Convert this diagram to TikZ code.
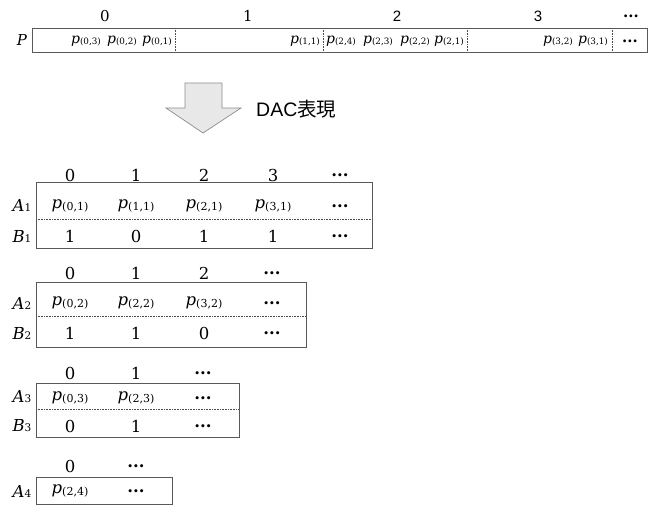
\documentclass[tikz,border=0pt]{standalone}
\usepackage{fontspec}
\setmainfont{DejaVu Serif}
\newfontfamily\sansf{Liberation Sans}
\newfontfamily\jpf{Noto Sans CJK JP}
\newcommand{\pv}[1]{\textit{p}\raisebox{-1.5pt}{\fontsize{11}{11}\selectfont(#1)}}
\newcommand{\pvs}[1]{{\fontsize{14}{14}\selectfont\textit{p}}\raisebox{-1.2pt}{\fontsize{8.8}{8.8}\selectfont(#1)}}
\newcommand{\lab}[2]{\textit{#1}{\fontsize{10.5}{10.5}\selectfont #2}}
\newcommand{\dts}{\textbf{...}}
\begin{document}
\begin{tikzpicture}[x=1pt,y=-1pt,
  txt/.style={inner sep=0pt,anchor=center,font=\fontsize{16.5}{16.5}\selectfont},
  ttxt/.style={inner sep=0pt,anchor=center,font=\fontsize{15}{15}\selectfont},
  boxline/.style={draw=black!65,line width=0.8pt},
  sep/.style={draw=black!70,line width=0.6pt,densely dotted}]
\useasboundingbox (0,0) rectangle (655,506);
% ---------- top array P ----------
\draw[boxline] (32,28) rectangle (647,52);
\draw[sep] (175,28) -- (175,52);
\draw[sep] (323,28) -- (323,52);
\draw[sep] (467,28) -- (467,52);
\draw[sep] (612,28) -- (612,52);
\node[ttxt] (P) at (22,40) {\textit{P}};
\node[ttxt] (h0) at (105,16) {0};
\node[ttxt] (h1) at (248,16) {1};
\node[ttxt] (h2) at (397,16) {\sansf 2};
\node[ttxt] (h3) at (538,16) {\sansf 3};
\node[ttxt] (h4) at (631,16) {\dts};
\node[ttxt] (t03) at (86,41) {\pvs{0,3}};
\node[ttxt] (t02) at (122,41) {\pvs{0,2}};
\node[ttxt] (t01) at (157,41) {\pvs{0,1}};
\node[ttxt] (t11) at (305,41) {\pvs{1,1}};
\node[ttxt] (t24) at (341,41) {\pvs{2,4}};
\node[ttxt] (t23) at (378,41) {\pvs{2,3}};
\node[ttxt] (t22) at (415,41) {\pvs{2,2}};
\node[ttxt] (t21) at (449,41) {\pvs{2,1}};
\node[ttxt] (t32) at (558,41) {\pvs{3,2}};
\node[ttxt] (t31) at (593,41) {\pvs{3,1}};
\node[ttxt] (t4) at (630,41) {\dts};
% ---------- arrow ----------
\draw[fill=black!9,draw=black!45,line width=0.7pt]
  (185,83) -- (222,83) -- (222,108) -- (241,108) -- (203,133) -- (166,108) -- (185,108) -- cycle;
\node[inner sep=0pt,anchor=west,font=\fontsize{19.5}{19.5}\selectfont] (dac) at (256,109) {\sansf DAC\jpf 表現};
% ---------- table 1 ----------
\draw[boxline] (36,182) rectangle (372,248);
\draw[sep] (36,219) -- (372,219);
\node[txt] (a1l) at (22,205) {\lab{A}{1}};
\node[txt] (b1l) at (22,236) {\lab{B}{1}};
\node[txt] (c10) at (70,175) {0};
\node[txt] (c11) at (136,175) {1};
\node[txt] (c12) at (204,175) {2};
\node[txt] (c13) at (273,175) {3};
\node[txt] (c14) at (340,175) {\dts};
\node[txt] (a10) at (70,206) {\pv{0,1}};
\node[txt] (a11) at (136,206) {\pv{1,1}};
\node[txt] (a12) at (204,206) {\pv{2,1}};
\node[txt] (a13) at (273,206) {\pv{3,1}};
\node[txt] (a14) at (340,206) {\dts};
\node[txt] (b10) at (70,236) {1};
\node[txt] (b11) at (136,236) {0};
\node[txt] (b12) at (204,236) {1};
\node[txt] (b13) at (273,236) {1};
\node[txt] (b14) at (340,236) {\dts};
% ---------- table 2 ----------
\draw[boxline] (36,282) rectangle (306,347);
\draw[sep] (36,316) -- (306,316);
\node[txt] (a2l) at (22,303) {\lab{A}{2}};
\node[txt] (b2l) at (22,333) {\lab{B}{2}};
\node[txt] (c20) at (70,273) {0};
\node[txt] (c21) at (136,273) {1};
\node[txt] (c22) at (204,273) {2};
\node[txt] (c23) at (272,273) {\dts};
\node[txt] (a20) at (70,303) {\pv{0,2}};
\node[txt] (a21) at (136,303) {\pv{2,2}};
\node[txt] (a22) at (204,303) {\pv{3,2}};
\node[txt] (a23) at (272,303) {\dts};
\node[txt] (b20) at (70,333) {1};
\node[txt] (b21) at (136,333) {1};
\node[txt] (b22) at (204,333) {0};
\node[txt] (b23) at (272,333) {\dts};
% ---------- table 3 ----------
\draw[boxline] (36,383) rectangle (239,437);
\draw[sep] (36,409) -- (239,409);
\node[txt] (a3l) at (22,397) {\lab{A}{3}};
\node[txt] (b3l) at (22,426) {\lab{B}{3}};
\node[txt] (c30) at (70,373) {0};
\node[txt] (c31) at (136,373) {1};
\node[txt] (c32) at (203,373) {\dts};
\node[txt] (a30) at (70,398) {\pv{0,3}};
\node[txt] (a31) at (136,398) {\pv{2,3}};
\node[txt] (a32) at (203,398) {\dts};
\node[txt] (b30) at (70,426) {0};
\node[txt] (b31) at (136,426) {1};
\node[txt] (b32) at (203,426) {\dts};
% ---------- table 4 ----------
\draw[boxline] (36,477) rectangle (172,504);
\node[txt] (a4l) at (22,491) {\lab{A}{4}};
\node[txt] (c40) at (70,466) {0};
\node[txt] (c41) at (136,466) {\dts};
\node[txt] (a40) at (70,491) {\pv{2,4}};
\node[txt] (a41) at (136,491) {\dts};
\end{tikzpicture}
\end{document}
